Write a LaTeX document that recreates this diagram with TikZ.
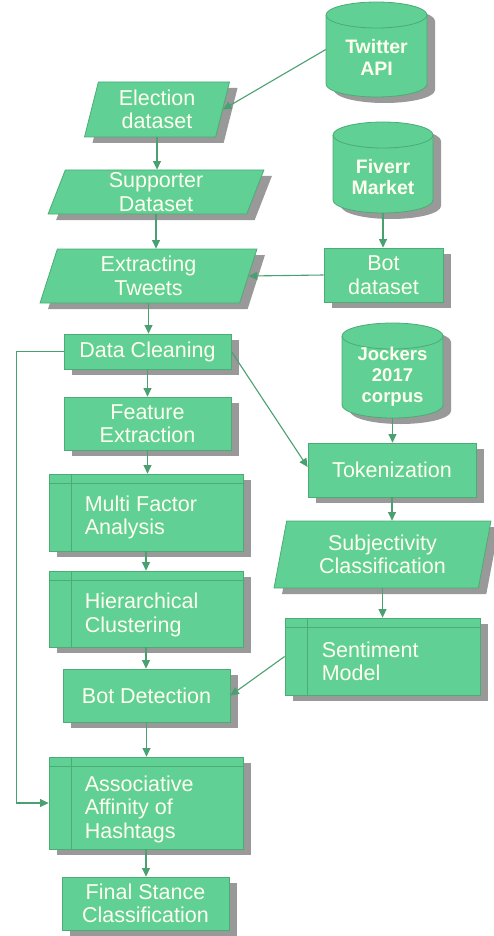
\documentclass[tikz,border=0pt]{standalone}
\usepackage{fontspec}
\setmainfont{Liberation Sans}
\usetikzlibrary{shapes.geometric,shadows,arrows.meta}
\definecolor{boxgreen}{RGB}{96,208,148}
\definecolor{boxborder}{RGB}{76,172,118}
\definecolor{linegreen}{RGB}{74,160,112}
\definecolor{shadowgray}{RGB}{153,153,153}
\definecolor{txtwhite}{RGB}{255,255,240}
\newcommand\dbcyl[7]{% name, cx, top, bottom, halfwidth, text-shift, text
  \begin{scope}[shift={(8pt,-6pt)}]
    \fill[shadowgray] (#2-#5,#3+13) -- (#2-#5,#4-13) arc[start angle=180,end angle=360,x radius=#5pt,y radius=13pt] -- (#2+#5,#3+13) arc[start angle=0,end angle=180,x radius=#5pt,y radius=13pt] -- cycle;
  \end{scope}
  \filldraw[fill=boxgreen,draw=boxborder,line width=0.8pt] (#2-#5,#3+13) -- (#2-#5,#4-13) arc[start angle=180,end angle=360,x radius=#5pt,y radius=13pt] -- (#2+#5,#3+13) arc[start angle=0,end angle=180,x radius=#5pt,y radius=13pt] -- cycle;
  \draw[boxborder,line width=0.8pt] (#2-#5,#3+13) arc[start angle=180,end angle=360,x radius=#5pt,y radius=13pt];
  \node[inner sep=0,minimum width=2*#5 pt,minimum height=#4pt-#3pt] (#1) at (#2,{(#3+#4)/2}) {};
  \node[cyltext] (#1-t) at (#2,{(#3+#4)/2+#6}) {#7};
}
\tikzset{
  shd/.style={drop shadow={shadow xshift=8pt,shadow yshift=-6pt,fill=shadowgray,opacity=1}},
  box/.style={rectangle,fill=boxgreen,draw=boxborder,line width=0.8pt,shd,inner sep=0,
    text=txtwhite,align=center,font=\fontsize{21.5}{23.5}\selectfont},
  para/.style={trapezium,trapezium stretches=true,fill=boxgreen,draw=boxborder,line width=0.8pt,shd,inner sep=0,
    text=txtwhite,align=center,font=\fontsize{21.5}{23.5}\selectfont,
    trapezium left angle=77,trapezium right angle=103},
  procline/.style={draw=boxborder,line width=0.8pt},
  ptext/.style={anchor=west,align=left,inner sep=0,text=txtwhite,font=\fontsize{21.5}{23.5}\selectfont},
  cyltext/.style={inner sep=0,align=center,text=txtwhite,font=\fontsize{19.5}{21.5}\selectfont\bfseries},
  conn/.style={draw=linegreen,line width=1.1pt,-{Triangle[length=8.5pt,width=8pt]}},
}
\begin{document}
\begin{tikzpicture}[x=1pt,y=-1pt]
\useasboundingbox (0,0) rectangle (494,936);
% cylinders
\dbcyl{tw}{376.5}{2}{97}{50.5}{8}{Twitter\\API}
\dbcyl{fm}{383}{122}{213}{50}{9.5}{Fiverr\\Market}
\tikzset{cyltext/.append style={font=\fontsize{18.5}{21}\selectfont\bfseries}}
\dbcyl{jc}{392.5}{323}{418}{50.5}{6.5}{Jockers\\2017\\corpus}
% parallelograms
\node[para,minimum width=146pt,minimum height=55pt] (ed) at (157,109.5) {Election\\dataset};
\node[para,minimum width=216pt,minimum height=44pt] (sd) at (156,192) {Supporter\\Dataset};
\node[para,minimum width=217pt,minimum height=54pt] (et) at (148.5,276) {Extracting\\Tweets};
\node[para,minimum width=217pt,minimum height=67pt,trapezium left angle=78,trapezium right angle=102] (sc) at (382.5,554.5) {Subjectivity\\Classification};
% rectangles
\node[box,minimum width=119pt,minimum height=54pt] (bds) at (383.5,275) {Bot\\dataset};
\node[box,minimum width=167pt,minimum height=35pt] (dc) at (147.5,351.5) {Data Cleaning};
\node[box,minimum width=167pt,minimum height=53pt] (fe) at (147.5,423.5) {Feature\\Extraction};
\node[box,minimum width=168pt,minimum height=54pt] (tok) at (392,470) {Tokenization};
\node[box,minimum width=167pt,minimum height=53pt] (bdet) at (146.5,695.5) {Bot Detection};
\node[box,minimum width=167pt,minimum height=53pt] (fsc) at (145.5,903.5) {Final Stance\\Classification};
% predefined processes
\node[box,minimum width=194pt,minimum height=77pt] (mfa) at (146,512.5) {};
\node[box,minimum width=194pt,minimum height=76pt] (hc) at (146,609) {};
\node[box,minimum width=194pt,minimum height=92pt] (aah) at (146,803) {};
\node[box,minimum width=195pt,minimum height=77pt] (sm) at (382.5,656.5) {};
\foreach \n in {mfa,hc,aah,sm}{
  \draw[procline] ([xshift=23pt]\n.north west) -- ([xshift=23pt]\n.south west);
  \draw[procline] ([yshift=-10pt]\n.north west) -- ([yshift=-10pt]\n.north east);
}
\node[ptext] (mfa-t) at ([xshift=36pt,yshift=-5pt]mfa.west) {Multi Factor\\Analysis};
\node[ptext] (hc-t) at ([xshift=36pt,yshift=-6pt]hc.west) {Hierarchical\\Clustering};
\node[ptext] (aah-t) at ([xshift=36pt,yshift=-6pt]aah.west) {Associative\\Affinity of\\Hashtags};
\node[ptext] (sm-t) at ([xshift=37pt,yshift=-5pt]sm.west) {Sentiment\\Model};
% connectors
\draw[conn] (tw.west) -- (ed.east);
\draw[conn] (ed.south) -- (ed.south |- sd.north);
\draw[conn] (sd.south) -- (sd.south |- et.north);
\draw[conn] (fm.south) -- (fm.south |- bds.north);
\draw[conn] (bds.west) -- (et.east);
\draw[conn] (et.south) -- (et.south |- dc.north);
\draw[conn] (dc.south) -- (dc.south |- fe.north);
\draw[conn] (fe.south) -- (fe.south |- mfa.north);
\draw[conn] (mfa.south) -- (mfa.south |- hc.north);
\draw[conn] (hc.south) -- (hc.south |- bdet.north);
\draw[conn] (bdet.south) -- (bdet.south |- aah.north);
\draw[conn] (aah.south) -- (aah.south |- fsc.north);
\draw[conn] (dc.east) -- ([yshift=3pt]tok.west);
\draw[conn] (jc.south) -- (jc.south |- tok.north);
\draw[conn] (tok.south) -- (tok.south |- sc.north);
\draw[conn] (sc.south) -- (sc.south |- sm.north);
\draw[conn] (sm.west) -- (bdet.east);
\draw[conn] (dc.west) -- ++(-47pt,0) |- (aah.west);
\end{tikzpicture}
\end{document}
